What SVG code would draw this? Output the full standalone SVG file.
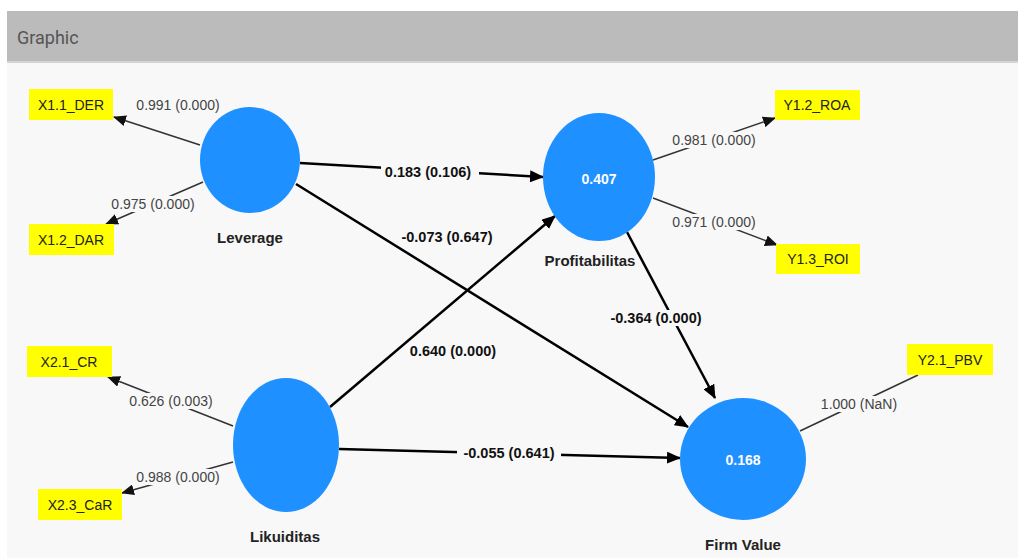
<svg xmlns="http://www.w3.org/2000/svg" width="1018" height="558" viewBox="0 0 1018 558">
<defs>
<style>
.lv{fill:#1e90ff}
.box{fill:#ffff00}
.bt{font-family:"Liberation Sans",Arial,sans-serif;font-size:14px;fill:#222;text-anchor:middle}
.nl{font-family:"Liberation Sans",Arial,sans-serif;font-size:15px;font-weight:bold;fill:#222;text-anchor:middle}
.r2{font-family:"Liberation Sans",Arial,sans-serif;font-size:14px;font-weight:bold;fill:#fff;text-anchor:middle}
.ll{font-family:"Liberation Sans",Arial,sans-serif;font-size:14px;fill:#444;text-anchor:middle}
.pl{font-family:"Liberation Sans",Arial,sans-serif;font-size:14.5px;font-weight:bold;fill:#111;text-anchor:middle}
.thin{stroke:#333;stroke-width:1.5;fill:none}
.bold{stroke:#000;stroke-width:2.5;fill:none}
.bg{fill:#f8f8f8}
</style>
<marker id="ah" markerUnits="userSpaceOnUse" markerWidth="14" markerHeight="12" refX="13" refY="6" orient="auto">
<path d="M0,0 L14,6 L0,12 z" fill="#000"/>
</marker>
<marker id="ahs" markerUnits="userSpaceOnUse" markerWidth="13" markerHeight="11" refX="12" refY="5.5" orient="auto">
<path d="M0,0 L13,5.5 L0,11 z" fill="#111"/>
</marker>
</defs>
<rect x="0" y="0" width="1018" height="558" fill="#fff"/>
<rect x="7" y="63" width="1011" height="495" fill="#f8f8f8"/>
<rect x="7" y="11" width="1011" height="50" fill="#bbbbbb"/>
<rect x="7" y="61" width="1011" height="2" fill="#d4d4d4"/>
<text x="17" y="44" font-family="Roboto,'Open Sans',sans-serif" font-size="18" fill="#555">Graphic</text>

<g id="connectors">
<line class="thin" x1="200" y1="145" x2="114" y2="117" marker-end="url(#ahs)"/>
<line class="thin" x1="203" y1="182" x2="106" y2="224" marker-end="url(#ahs)"/>
<line class="thin" x1="653" y1="160" x2="775" y2="118" marker-end="url(#ahs)"/>
<line class="thin" x1="653" y1="198" x2="777" y2="245" marker-end="url(#ahs)"/>
<line class="thin" x1="233" y1="426" x2="108" y2="377" marker-end="url(#ahs)"/>
<line class="thin" x1="233" y1="462" x2="122" y2="493" marker-end="url(#ahs)"/>
<line class="thin" x1="800" y1="431" x2="918" y2="375"/>
<line class="bold" x1="300" y1="163" x2="543" y2="177" marker-end="url(#ah)"/>
<line class="bold" x1="296" y1="184" x2="688" y2="427" marker-end="url(#ah)"/>
<line class="bold" x1="330" y1="407" x2="555" y2="216" marker-end="url(#ah)"/>
<line class="bold" x1="339" y1="449" x2="680" y2="458" marker-end="url(#ah)"/>
<line class="bold" x1="627" y1="232" x2="715" y2="398" marker-end="url(#ah)"/>

<rect class="bg" x="112" y="196" width="82" height="16"/>
<rect class="bg" x="673" y="132" width="82" height="16"/>
<rect class="bg" x="673" y="214" width="82" height="16"/>
<rect class="bg" x="130" y="393" width="82" height="16"/>
<rect class="bg" x="137" y="469" width="82" height="16"/>
<rect class="bg" x="818" y="396" width="82" height="16"/>
<rect class="bg" x="381" y="164" width="98" height="16"/>
<rect class="bg" x="603" y="310" width="106" height="16"/>
<rect class="bg" x="457" y="445" width="104" height="16"/>

<text class="ll" x="178" y="110">0.991 (0.000)</text>
<text class="ll" x="153" y="209">0.975 (0.000)</text>
<text class="ll" x="714" y="145">0.981 (0.000)</text>
<text class="ll" x="714" y="227">0.971 (0.000)</text>
<text class="ll" x="171" y="406">0.626 (0.003)</text>
<text class="ll" x="178" y="482">0.988 (0.000)</text>
<text class="ll" x="859" y="409">1.000 (NaN)</text>
<text class="pl" x="428" y="177">0.183 (0.106)</text>
<text class="pl" x="447" y="242">-0.073 (0.647)</text>
<text class="pl" x="453" y="356">0.640 (0.000)</text>
<text class="pl" x="656" y="323">-0.364 (0.000)</text>
<text class="pl" x="509" y="458">-0.055 (0.641)</text>
</g>

<g id="leverage">
<ellipse class="lv" cx="250" cy="160" rx="50" ry="53"/>
<text class="nl" x="250" y="243">Leverage</text>
</g>
<g id="profitabilitas">
<ellipse class="lv" cx="599" cy="177" rx="56" ry="64"/>
<text class="r2" x="599" y="184">0.407</text>
<text class="nl" x="590" y="266">Profitabilitas</text>
</g>
<g id="likuiditas">
<ellipse class="lv" cx="286" cy="445" rx="53" ry="67"/>
<text class="nl" x="285" y="542">Likuiditas</text>
</g>
<g id="firmvalue">
<ellipse class="lv" cx="743" cy="459" rx="63" ry="61"/>
<text class="r2" x="743" y="465">0.168</text>
<text class="nl" x="743" y="550">Firm Value</text>
</g>
<g id="x11">
<rect class="box" x="29" y="89" width="84" height="31"/>
<text class="bt" x="71" y="110">X1.1_DER</text>
</g>
<g id="x12">
<rect class="box" x="29" y="224" width="85" height="31"/>
<text class="bt" x="71" y="245">X1.2_DAR</text>
</g>
<g id="y12">
<rect class="box" x="775" y="90" width="85" height="30"/>
<text class="bt" x="817" y="110">Y1.2_ROA</text>
</g>
<g id="y13">
<rect class="box" x="776" y="244" width="84" height="30"/>
<text class="bt" x="818" y="264">Y1.3_ROI</text>
</g>
<g id="x21">
<rect class="box" x="27" y="346" width="85" height="31"/>
<text class="bt" x="69" y="367">X2.1_CR</text>
</g>
<g id="x23">
<rect class="box" x="38" y="489" width="84" height="31"/>
<text class="bt" x="80" y="510">X2.3_CaR</text>
</g>
<g id="y21">
<rect class="box" x="907" y="344" width="86" height="31"/>
<text class="bt" x="950" y="365">Y2.1_PBV</text>
</g>
</svg>
